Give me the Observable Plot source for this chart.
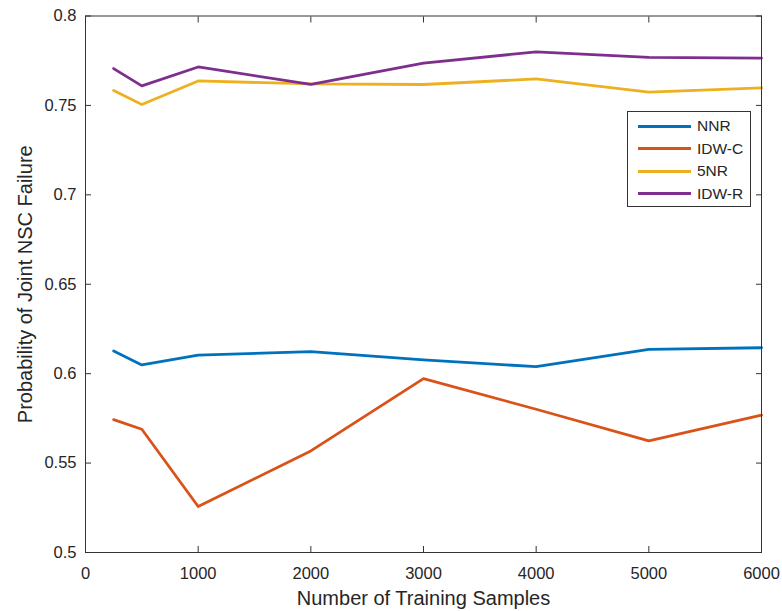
<!DOCTYPE html>
<html>
<head>
<meta charset="utf-8">
<script src="https://cdn.jsdelivr.net/npm/d3@7"></script>
<script src="https://cdn.jsdelivr.net/npm/@observablehq/plot@0.6"></script>
<style>
  html, body { margin: 0; padding: 0; background: #fff; }
  #wrap { position: relative; width: 782px; height: 611px; font-family: "Liberation Sans", Arial, sans-serif; }
  #legend { position: absolute; left: 627px; top: 111px; width: 124px; height: 96px; border: 1px solid #333; background: #fff; box-sizing: border-box; }
  .row { position: absolute; left: 10px; height: 20px; display: flex; align-items: center; font-size: 15.5px; color: #262626; }
  .row .sw { width: 53px; height: 3px; margin-right: 6px; }
</style>
</head>
<body>
<div id="wrap"></div>
<script>
const samples = [250, 500, 1000, 2000, 3000, 4000, 5000, 6000];
const seriesNames = ["NNR", "IDW-C", "5NR", "IDW-R"];
const seriesColors = ["#0072BD", "#D95319", "#EDB120", "#7E2F8E"];
const nnr  = [0.6127, 0.6049, 0.6104, 0.6123, 0.6077, 0.6039, 0.6136, 0.6145];
const idwc = [0.5743, 0.5689, 0.5257, 0.5568, 0.5972, 0.5801, 0.5624, 0.5768];
const nr5  = [0.7583, 0.7505, 0.7637, 0.7620, 0.7617, 0.7648, 0.7574, 0.7598];
const idwr = [0.7706, 0.7609, 0.7715, 0.7618, 0.7737, 0.7799, 0.7769, 0.7765];
const xTicks = [0, 1000, 2000, 3000, 4000, 5000, 6000];
const yTicks = [0.5, 0.55, 0.6, 0.65, 0.7, 0.75, 0.8];
const xLabel = "Number of Training Samples";
const yLabel = "Probability of Joint NSC Failure";

const allSeries = [nnr, idwc, nr5, idwr];
const data = [];
allSeries.forEach((vals, i) => vals.forEach((v, j) => data.push({series: seriesNames[i], x: samples[j], y: v})));

const ink = "#333333";
const textInk = "#262626";
const chart = Plot.plot({
  width: 782,
  height: 611,
  marginLeft: 85,
  marginRight: 21,
  marginTop: 15.5,
  marginBottom: 59,
  style: {fontFamily: "'Liberation Sans', Arial, sans-serif", fontSize: "16.5px", color: textInk, background: "#fff"},
  x: {domain: [0, 6000]},
  y: {domain: [0.5, 0.8]},
  color: {domain: seriesNames, range: seriesColors},
  marks: [
    Plot.line(data, {x: "x", y: "y", z: "series", stroke: "series", strokeWidth: 2.8, curve: "linear"}),
    Plot.frame({stroke: ink, strokeWidth: 1}),
    Plot.axisX({ticks: xTicks, anchor: "bottom", tickSize: 0, tickPadding: 15, tickFormat: d => String(d), label: null, fill: textInk, fontSize: 16.5}),
    Plot.axisX({ticks: xTicks, anchor: "bottom", tickSize: -6, tickFormat: () => "", label: null, stroke: ink}),
    Plot.axisX({ticks: xTicks, anchor: "top", tickSize: -6, tickFormat: () => "", label: null, stroke: ink}),
    Plot.axisY({ticks: yTicks, anchor: "left", tickSize: 0, tickPadding: 9, tickFormat: d => String(d), label: null, fill: textInk, fontSize: 16.5}),
    Plot.axisY({ticks: yTicks, anchor: "left", tickSize: -6, tickFormat: () => "", label: null, stroke: ink}),
    Plot.axisY({ticks: yTicks, anchor: "right", tickSize: -6, tickFormat: () => "", label: null, stroke: ink}),
    Plot.text([xLabel], {frameAnchor: "bottom", text: d => d, textAnchor: "middle", dy: 52, fontSize: 20, fill: textInk}),
    Plot.text([yLabel], {frameAnchor: "left", text: d => d, textAnchor: "middle", rotate: -90, dx: -60, fontSize: 20, fill: textInk})
  ]
});
const wrap = document.getElementById("wrap");
wrap.appendChild(chart);

const legend = document.createElement("div");
legend.id = "legend";
seriesNames.forEach((name, i) => {
  const row = document.createElement("div");
  row.className = "row";
  row.style.top = (4 + i * 22.5) + "px";
  const sw = document.createElement("div");
  sw.className = "sw";
  sw.style.background = seriesColors[i];
  const t = document.createElement("span");
  t.textContent = name;
  row.appendChild(sw);
  row.appendChild(t);
  legend.appendChild(row);
});
wrap.appendChild(legend);
</script>
</body>
</html>
